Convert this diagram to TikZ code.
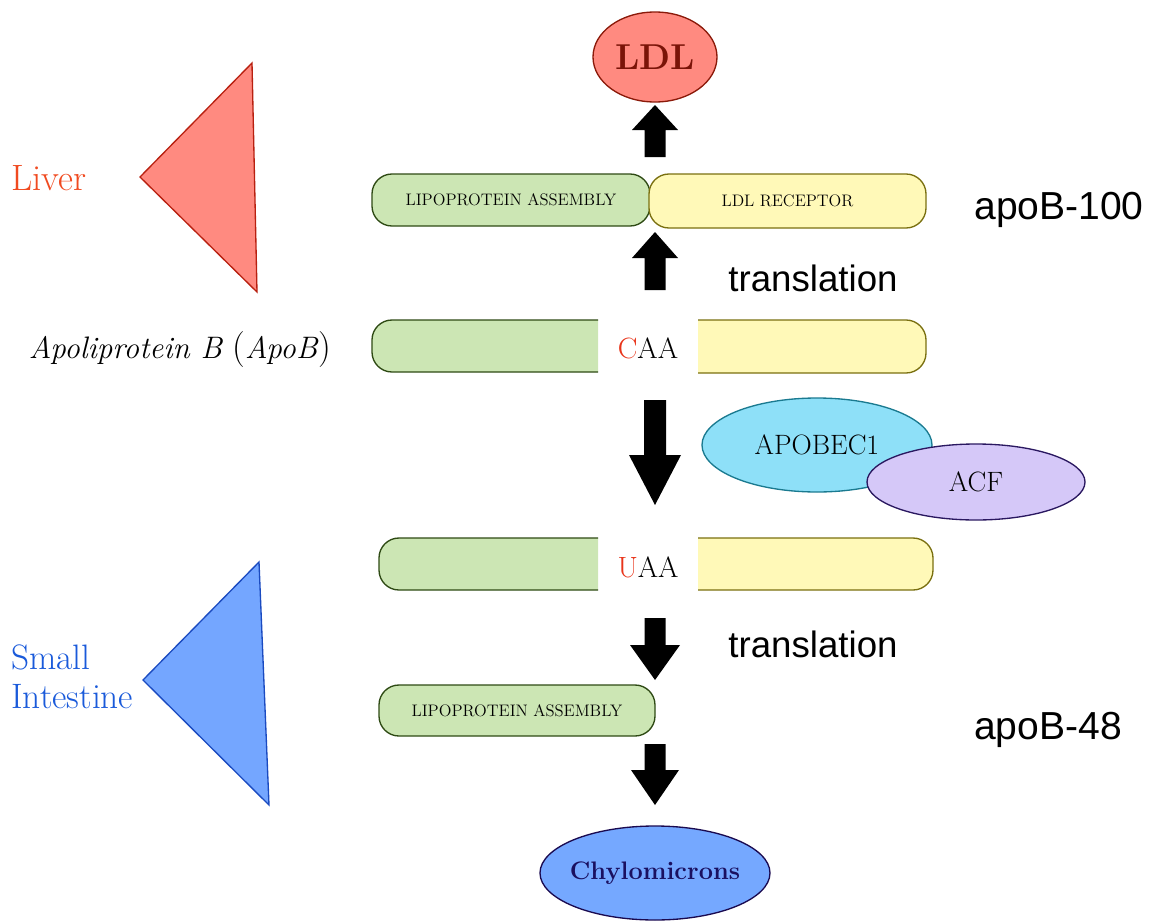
\documentclass[tikz,border=0pt]{standalone}
\usepackage{fontspec}
\newfontfamily\sansf{Liberation Sans}
\definecolor{gfill}{HTML}{CCE6B4}
\definecolor{gline}{HTML}{2E4A14}
\definecolor{yfill}{HTML}{FFF9B8}
\definecolor{yline}{HTML}{7A7010}
\definecolor{ldlfill}{HTML}{FF8A80}
\definecolor{ldlline}{HTML}{8B1A0A}
\definecolor{ldltext}{HTML}{7A1408}
\definecolor{livfill}{HTML}{FF8A80}
\definecolor{livline}{HTML}{B82010}
\definecolor{livtext}{HTML}{F04A20}
\definecolor{sifill}{HTML}{74A6FF}
\definecolor{siline}{HTML}{1A4AC0}
\definecolor{sitext}{HTML}{1A5ADA}
\definecolor{apofill}{HTML}{8EE0F8}
\definecolor{apoline}{HTML}{1A7A90}
\definecolor{acffill}{HTML}{D5C8F8}
\definecolor{acfline}{HTML}{2A1860}
\definecolor{chyfill}{HTML}{75A8FF}
\definecolor{chyline}{HTML}{1A0A50}
\definecolor{chytext}{HTML}{1A1060}
\definecolor{nred}{HTML}{E8341A}
\newcommand{\px}[1]{#1*0.75pt}
\usetikzlibrary{shapes.geometric}
\tikzset{
  pill/.style={rounded corners=15pt, line width=1pt, inner sep=0pt,
    font=\fontsize{12.5}{14}\selectfont},
  gpill/.style={pill, draw=gline, fill=gfill},
  ypill/.style={pill, draw=yline, fill=yfill},
  oval/.style={ellipse, line width=1pt, inner sep=0pt},
  barrow/.style={fill=black},
  lbl/.style={inner sep=0pt},
  halfbox/.style={rounded corners=15pt, line width=1pt},
}
\newcommand{\blkarrow}[6]{% x, tip y, head-base y, tail y, shaft half, head half
  \fill[barrow] (#1,#2) -- (#1+#6,#3) -- (#1+#5,#3) -- (#1+#5,#4) -- (#1-#5,#4) -- (#1-#5,#3) -- (#1-#6,#3) -- cycle;}
\begin{document}
\begin{tikzpicture}[x=0.75pt,y=-0.75pt]
\useasboundingbox (0,0) rectangle (1154,921);

% triangles
\draw[fill=livfill, draw=livline, line width=1pt] (140,177) -- (252,63) -- (257,292) -- cycle;
\draw[fill=sifill, draw=siline, line width=1pt] (143,680) -- (259,562) -- (269,805) -- cycle;
\node[lbl, anchor=west, text=livtext, font=\fontsize{27.5}{30}\selectfont] (liver) at (11,178) {Liver};
\node[lbl, anchor=west, align=left, text=sitext, font=\fontsize{26.5}{29.5}\selectfont] (si) at (11,677) {Small\\Intestine};

% LDL
\node[oval, draw=ldlline, fill=ldlfill, minimum width=\px{124}, minimum height=\px{90},
  text=ldltext, font=\fontsize{27}{30}\selectfont\bfseries] (ldl) at (655,57) {LDL};
\blkarrow{655}{105}{130}{157}{10.5}{23}

% apoB-100 pills
\node[gpill, minimum width=\px{278}, minimum height=\px{52}] (lpa1) at (511,200) {LIPOPROTEIN ASSEMBLY};
\node[ypill, minimum width=\px{277}, minimum height=\px{54}] (ldlr) at (787.5,201) {LDL RECEPTOR};
\node[lbl, font=\sansf\fontsize{29.3}{32}\selectfont] (apo100) at (1059,210) {apoB-100};
\blkarrow{655}{232}{258}{290}{10.5}{23}
\node[lbl, font=\sansf\fontsize{27.5}{30}\selectfont] (tr1) at (813,278) {translation};

% CAA row
\fill[gfill, halfbox] (598,320) -- (372,320) -- (372,372) -- (598,372);
\draw[gline, halfbox] (598,320) -- (372,320) -- (372,372) -- (598,372);
\fill[yfill, halfbox] (698,320) -- (926,320) -- (926,373) -- (698,373);
\draw[yline, halfbox] (698,320) -- (926,320) -- (926,373) -- (698,373);
\node[lbl, font=\fontsize{22}{24}\selectfont] (caa) at (648,348) {\textcolor{nred}{C}AA};
\node[lbl, font=\fontsize{23.3}{26}\selectfont] (apob) at (180,350) {\textit{Apoliprotein B} \fontsize{27}{30}\selectfont(\fontsize{23.3}{26}\selectfont\textit{ApoB}\fontsize{27}{30}\selectfont)};

\blkarrow{655}{505}{455}{400}{11}{26}

% enzymes
\node[oval, draw=apoline, fill=apofill, minimum width=\px{230}, minimum height=\px{94},
  font=\fontsize{21}{23}\selectfont] (apobec) at (817,445) {APOBEC1};
\node[oval, draw=acfline, fill=acffill, minimum width=\px{218}, minimum height=\px{76},
  font=\fontsize{21}{23}\selectfont] (acf) at (976,482) {ACF};

% UAA row
\fill[gfill, halfbox] (598,538) -- (379,538) -- (379,590) -- (598,590);
\draw[gline, halfbox] (598,538) -- (379,538) -- (379,590) -- (598,590);
\fill[yfill, halfbox] (698,538) -- (933,538) -- (933,590) -- (698,590);
\draw[yline, halfbox] (698,538) -- (933,538) -- (933,590) -- (698,590);
\node[lbl, font=\fontsize{22}{24}\selectfont] (uaa) at (648,567) {\textcolor{nred}{U}AA};

\blkarrow{655}{680}{645}{618}{10.5}{25}
\node[lbl, font=\sansf\fontsize{27.5}{30}\selectfont] (tr2) at (813,644) {translation};

% apoB-48
\node[gpill, minimum width=\px{276}, minimum height=\px{51}] (lpa2) at (517,710.5) {LIPOPROTEIN ASSEMBLY};
\node[lbl, font=\sansf\fontsize{29.3}{32}\selectfont] (apo48) at (1048,730) {apoB-48};
\blkarrow{655}{805}{770}{744}{10.5}{24}

\node[oval, draw=chyline, fill=chyfill, minimum width=\px{230}, minimum height=\px{94},
  inner xsep=-8pt, text=chytext, font=\fontsize{19}{21}\selectfont\bfseries] (chylo) at (655,873) {Chylomicrons};
\end{tikzpicture}
\end{document}
